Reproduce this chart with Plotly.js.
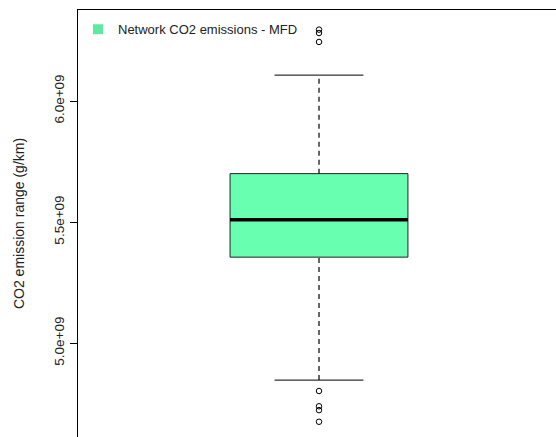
<!DOCTYPE html>
<html>
<head>
<meta charset="utf-8">
<script src="https://cdn.plot.ly/plotly-3.0.1.min.js"></script>
<style>html,body{margin:0;padding:0;background:#fff;}#chart{width:556px;height:437px;}</style>
</head>
<body>
<div id="chart"></div>
<script>
// Data
var seriesName = "Network CO2 emissions - MFD";
var boxPosition = [1];
var q1 = [5.355e9];
var median = [5.51e9];
var q3 = [5.70e9];
var lowerWhisker = [4.847e9];
var upperWhisker = [6.107e9];
var outliers = [6.295e9, 6.281e9, 6.244e9, 4.802e9, 4.739e9, 4.723e9, 4.675e9];
var tickValues = [5.0e9, 5.5e9, 6.0e9];
var tickLabels = ["5.0e+09", "5.5e+09", "6.0e+09"];

var fillColor = "#68FFB0";
var boxWidth = 0.369;
var capHalf = boxWidth / 4;
var x0 = boxPosition[0];

var traces = [];
// whiskers (dashed)
traces.push({type: "scatter", mode: "lines", x: [x0, x0], y: [q3[0], upperWhisker[0]],
  line: {color: "#000", width: 1.2, dash: "5px,4px"}, showlegend: false, hoverinfo: "skip"});
traces.push({type: "scatter", mode: "lines", x: [x0, x0], y: [lowerWhisker[0], q1[0]],
  line: {color: "#000", width: 1.2, dash: "5px,4px"}, showlegend: false, hoverinfo: "skip"});
// caps
traces.push({type: "scatter", mode: "lines", x: [x0 - capHalf, x0 + capHalf], y: [upperWhisker[0], upperWhisker[0]],
  line: {color: "#000", width: 1}, showlegend: false, hoverinfo: "skip"});
traces.push({type: "scatter", mode: "lines", x: [x0 - capHalf, x0 + capHalf], y: [lowerWhisker[0], lowerWhisker[0]],
  line: {color: "#000", width: 1}, showlegend: false, hoverinfo: "skip"});
// box
traces.push({type: "box", x: boxPosition, q1: q1, median: median, q3: q3,
  lowerfence: q1, upperfence: q3, width: boxWidth, whiskerwidth: 0,
  fillcolor: fillColor, line: {color: "#222", width: 1}, boxpoints: false,
  showlegend: false, hoverinfo: "skip"});
// median thick line
traces.push({type: "scatter", mode: "lines", x: [x0 - boxWidth / 2, x0 + boxWidth / 2], y: [median[0], median[0]],
  line: {color: "#000", width: 3.5}, showlegend: false, hoverinfo: "skip"});
// outliers
traces.push({type: "scatter", mode: "markers", x: outliers.map(function(){return x0;}), y: outliers,
  marker: {symbol: "circle-open", size: 5.5, color: "#000", line: {width: 1, color: "#000"}},
  showlegend: false, hoverinfo: "skip"});
// legend entry
traces.push({type: "scatter", mode: "markers", x: [null], y: [null], name: seriesName,
  marker: {symbol: "square", size: 10, color: "#5EEA9E"}, showlegend: true});

var layout = {
  width: 556, height: 437,
  margin: {l: 78, r: 0, t: 10, b: 0},
  paper_bgcolor: "#fff", plot_bgcolor: "#fff",
  font: {family: "Liberation Sans, Arial, sans-serif", size: 13, color: "#222"},
  showlegend: true,
  legend: {x: 0.0, y: 0.99, xanchor: "left", yanchor: "top", bgcolor: "rgba(0,0,0,0)",
    font: {size: 13, color: "#222"}, itemwidth: 30, tracegroupgap: 0},
  xaxis: {range: [0.5, 1.4917], side: "top", showline: true, linecolor: "#000", linewidth: 1.5,
    showticklabels: false, ticks: "", showgrid: false, zeroline: false, fixedrange: true},
  yaxis: {range: [4.612e9, 6.376e9], showline: true, linecolor: "#000", linewidth: 1.5,
    tickvals: tickValues, ticktext: tickLabels, tickangle: -90, ticks: "outside", ticklen: 7,
    tickcolor: "#000", showgrid: false, zeroline: false, tickfont: {size: 13.5, color: "#222"},
    title: {text: "CO2 emission range (g/km)", font: {size: 14, color: "#222"}, standoff: 24}}
};

Plotly.newPlot("chart", traces, layout, {displayModeBar: false, staticPlot: true});
</script>
</body>
</html>
